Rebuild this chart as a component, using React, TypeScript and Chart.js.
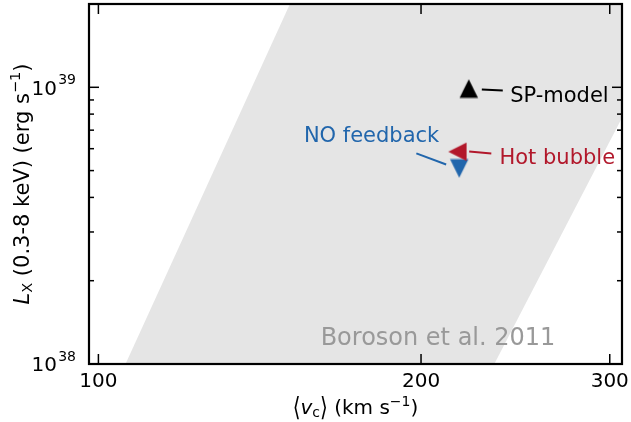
import React, { useEffect, useRef } from 'react';
import { Chart, registerables } from 'chart.js';

Chart.register(...registerables);

const FONT = 'DejaVu Sans';

// Axis ranges: circular velocity (km/s) and X-ray luminosity (erg/s)
const X_MIN = 98;
const X_MAX = 308;
const Y_MIN = 1e38;
const Y_MAX = 2e39;

const xTickValues = [100, 200, 300];
const yMajorTicks = [1e38, 1e39];
const yMinorTicks = [2e38, 3e38, 4e38, 5e38, 6e38, 7e38, 8e38, 9e38, 2e39];

// Observed relation band (Boroson et al. 2011), corners as (v_c, L_X)
const bandVc = [106.0, 150.9, 349.6, 234.1];
const bandLx = [1e38, 2e39, 2e39, 1e38];

// Model predictions
const modelNames = ['SP-model', 'Hot bubble', 'NO feedback'];
const modelVc = [221.6, 216.3, 217.1];
const modelLx = [9.9e38, 5.85e38, 5.09e38];
const modelColors = ['#000000', '#b2182b', '#2166ac'];
const modelMarkers = ['up', 'left', 'down'];

// Label anchors (left edge, baseline) and leader-line ends per model
const labelVc = [242.2, 236.7, 155.5];
const labelLx = [8.87e38, 5.27e38, 6.36e38];
const leaderVcStart = [227.9, 221.8, 198.0];
const leaderLxStart = [9.82e38, 5.86e38, 5.77e38];
const leaderVcEnd = [238.4, 232.6, 211.1];
const leaderLxEnd = [9.74e38, 5.77e38, 5.26e38];

const refLabel = 'Boroson et al. 2011';
const refLabelVc = 161.2;
const refLabelLx = 1.171e38;

type Part = { t: string; size: number; italic?: boolean; dy?: number; sy?: number };

function fontOf(p: Part) {
  return `${p.italic ? 'italic ' : ''}${p.size}px "${FONT}"`;
}

function drawRich(ctx: CanvasRenderingContext2D, parts: Part[], x: number, y: number, align: 'left' | 'center' | 'right', color: string) {
  ctx.save();
  ctx.textAlign = 'left';
  ctx.textBaseline = 'alphabetic';
  ctx.fillStyle = color;
  const widths = parts.map((p) => {
    ctx.font = fontOf(p);
    return ctx.measureText(p.t).width;
  });
  const total = widths.reduce((a, b) => a + b, 0);
  let cx = align === 'left' ? x : align === 'center' ? x - total / 2 : x - total;
  parts.forEach((p, i) => {
    ctx.font = fontOf(p);
    if (p.sy) {
      ctx.save();
      ctx.translate(cx, y + (p.dy || 0));
      ctx.scale(1, p.sy);
      ctx.fillText(p.t, 0, 0);
      ctx.restore();
    } else {
      ctx.fillText(p.t, cx, y + (p.dy || 0));
    }
    cx += widths[i];
  });
  ctx.restore();
}

function triangleMarker(color: string, dir: string) {
  const size = 20;
  const c = document.createElement('canvas');
  c.width = size;
  c.height = size;
  const g = c.getContext('2d')!;
  const h = 9.2;
  const m = size / 2;
  const pts =
    dir === 'up'
      ? [[0, -h], [-h, h], [h, h]]
      : dir === 'down'
      ? [[0, h], [-h, -h], [h, -h]]
      : [[-h, 0], [h, -h], [h, h]];
  g.beginPath();
  pts.forEach(([px, py], i) => (i ? g.lineTo(m + px, m + py) : g.moveTo(m + px, m + py)));
  g.closePath();
  g.fillStyle = color;
  g.fill();
  return c;
}

const decorations = {
  id: 'decorations',
  afterDatasetsDraw(chart: any) {
    const { ctx, chartArea: a, scales } = chart;
    const xs = scales.x;
    const ys = scales.y;
    ctx.save();
    ctx.strokeStyle = '#000';
    ctx.lineWidth = 1.5;
    const seg = (x1: number, y1: number, x2: number, y2: number) => {
      ctx.beginPath();
      ctx.moveTo(x1, y1);
      ctx.lineTo(x2, y2);
      ctx.stroke();
    };
    xTickValues.forEach((v) => {
      const px = xs.getPixelForValue(v);
      seg(px, a.bottom, px, a.bottom - 10);
      seg(px, a.top, px, a.top + 10);
    });
    yMajorTicks.forEach((v) => {
      const py = ys.getPixelForValue(v);
      seg(a.left, py, a.left + 10, py);
      seg(a.right, py, a.right - 10, py);
    });
    yMinorTicks.forEach((v) => {
      const py = ys.getPixelForValue(v);
      seg(a.left, py, a.left + 5, py);
      seg(a.right, py, a.right - 5, py);
    });
    ctx.lineWidth = 2.2;
    ctx.strokeRect(a.left, a.top, a.right - a.left, a.bottom - a.top);
    ctx.restore();
  },
  afterDraw(chart: any) {
    const { ctx, chartArea: a, scales } = chart;
    const xs = scales.x;
    const ys = scales.y;

    // y tick labels as powers of ten
    yMajorTicks.forEach((v) => {
      const py = ys.getPixelForValue(v);
      const exp = String(Math.round(Math.log10(v)));
      drawRich(ctx, [{ t: '10', size: 20 }, { t: '\u2009', size: 6 }, { t: exp, size: 14, dy: -10.3 }], a.left - 13, py + 7.3, 'right', '#000');
    });

    // axis titles
    drawRich(
      ctx,
      [
        { t: '\u27e8', size: 20, sy: 1.3, dy: 2 },
        { t: 'v', size: 20, italic: true },
        { t: 'c', size: 14, dy: 3 },
        { t: '\u27e9', size: 20, sy: 1.3, dy: 2 },
        { t: ' (km s', size: 20 },
        { t: '\u22121', size: 14, dy: -8 },
        { t: ')', size: 20 },
      ],
      (a.left + a.right) / 2,
      a.bottom + 49.5,
      'center',
      '#000'
    );
    ctx.save();
    ctx.translate(28.5, (a.top + a.bottom) / 2);
    ctx.rotate(-Math.PI / 2);
    drawRich(
      ctx,
      [
        { t: 'L', size: 21, italic: true },
        { t: 'X', size: 14.5, dy: 3 },
        { t: ' (0.3-8 keV) (erg s', size: 21 },
        { t: '\u22121', size: 14.5, dy: -8.5 },
        { t: ')', size: 21 },
      ],
      0,
      0,
      'center',
      '#000'
    );
    ctx.restore();

    // model labels
    modelNames.forEach((name, i) => {
      drawRich(ctx, [{ t: name, size: 21 }], xs.getPixelForValue(labelVc[i]), ys.getPixelForValue(labelLx[i]), 'left', modelColors[i]);
    });

    // reference label
    drawRich(ctx, [{ t: refLabel, size: 24 }], xs.getPixelForValue(refLabelVc), ys.getPixelForValue(refLabelLx), 'left', '#999999');
  },
};

export default function App() {
  const ref = useRef<HTMLCanvasElement>(null);

  useEffect(() => {
    const canvas = ref.current;
    if (!canvas) return;

    const markerDatasets = modelNames.map((name, i) => ({
      label: name,
      data: [{ x: modelVc[i], y: modelLx[i] }],
      showLine: false,
      pointStyle: triangleMarker(modelColors[i], modelMarkers[i]),
      pointRadius: 9,
      pointHoverRadius: 9,
      borderWidth: 0,
      borderColor: modelColors[i],
      backgroundColor: modelColors[i],
    }));

    const leaderDatasets = modelNames.map((name, i) => ({
      label: name + ' leader',
      data: [
        { x: leaderVcStart[i], y: leaderLxStart[i] },
        { x: leaderVcEnd[i], y: leaderLxEnd[i] },
      ],
      borderColor: modelColors[i],
      borderWidth: 2,
      pointRadius: 0,
      fill: false,
      tension: 0,
    }));

    const bandDataset = {
      label: refLabel,
      data: bandVc.map((x, i) => ({ x, y: bandLx[i] })),
      fill: 'shape',
      backgroundColor: '#e5e5e5',
      borderColor: 'rgba(0,0,0,0)',
      borderWidth: 0,
      pointRadius: 0,
      tension: 0,
    };

    const chart = new Chart(canvas, {
      type: 'line',
      data: { datasets: [...markerDatasets, ...leaderDatasets, bandDataset] as any },
      options: {
        responsive: false,
        animation: false,
        devicePixelRatio: 1,
        layout: { autoPadding: false, padding: { top: 4, right: 9, left: 0, bottom: 0 } },
        plugins: { legend: { display: false }, tooltip: { enabled: false } },
        scales: {
          x: {
            type: 'logarithmic',
            min: X_MIN,
            max: X_MAX,
            bounds: 'data',
            grid: { display: false, drawTicks: false },
            border: { display: false },
            ticks: {
              autoSkip: false,
              maxRotation: 0,
              minRotation: 0,
              padding: 6,
              color: '#000',
              font: { family: FONT, size: 20 },
              callback: (v: any) => String(v),
            },
            afterBuildTicks: (axis: any) => {
              axis.ticks = xTickValues.map((value) => ({ value }));
            },
            afterFit: (axis: any) => {
              axis.height = 58;
              axis.paddingLeft = 0;
              axis.paddingRight = 0;
            },
          },
          y: {
            type: 'logarithmic',
            min: Y_MIN,
            max: Y_MAX,
            bounds: 'data',
            grid: { display: false, drawTicks: false },
            border: { display: false },
            ticks: { display: false },
            afterFit: (axis: any) => {
              axis.width = 89;
              axis.paddingTop = 0;
              axis.paddingBottom = 0;
            },
          },
        },
      } as any,
      plugins: [decorations],
    });

    return () => chart.destroy();
  }, []);

  return (
    <div style={{ position: 'absolute', left: 0, top: 0, width: 631, height: 422, background: '#ffffff' }}>
      <canvas ref={ref} width={631} height={422} style={{ display: 'block' }} />
    </div>
  );
}
